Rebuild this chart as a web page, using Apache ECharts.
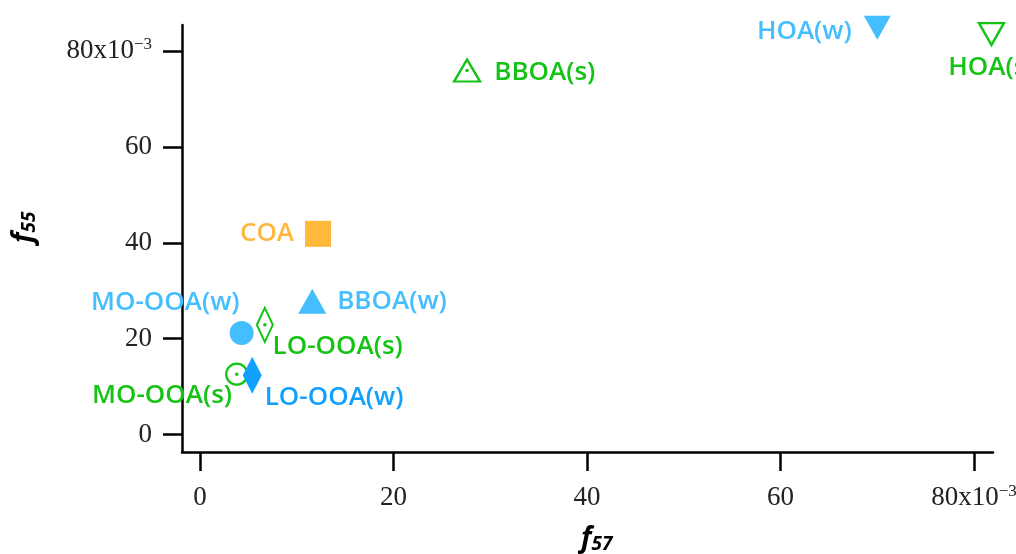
<!DOCTYPE html>
<html>
<head>
<meta charset="utf-8">
<title>f55 vs f57</title>
<script src="https://cdn.jsdelivr.net/npm/echarts@6/dist/echarts.min.js"></script>
<style>
  html, body { margin: 0; padding: 0; background: #ffffff; }
  #chart { width: 1016px; height: 554px; }
</style>
</head>
<body>
<div id="chart"></div>
<script>
// Factor names and their f57 / f55 fractions (both in units of 10^-3)
const factorNames = ['HOA(w)', 'HOA(s)', 'BBOA(s)', 'COA', 'BBOA(w)', 'MO-OOA(w)', 'LO-OOA(s)', 'MO-OOA(s)', 'LO-OOA(w)'];
const f57Values = [70.0, 81.8, 27.6, 12.2, 11.6, 4.3, 6.7, 3.8, 5.4];
const f55Values = [84.9, 83.6, 76.0, 41.9, 27.8, 21.2, 22.9, 12.6, 12.4];
const xTickValues = [0, 20, 40, 60, 80];
const yTickValues = [0, 20, 40, 60, 80];

// Colours
const LIGHT_BLUE = '#45BEFF';
const DEEP_BLUE = '#12A0FF';
const GREEN = '#14C314';
const ORANGE = '#FFB83C';

// Marker and label appearance for each factor
const markerStyle = {
  'HOA(w)':    { symbol: 'triangle', size: [27, 24], rotate: 180, color: LIGHT_BLUE, filled: true,
                 label: { position: 'left', distance: 12, offset: [0, 4] } },
  'HOA(s)':    { symbol: 'triangle', size: [25, 22], rotate: 180, color: GREEN, filled: false,
                 label: { position: 'bottom', distance: 8, offset: [0, 0] } },
  'BBOA(s)':   { symbol: 'triangle', size: [26, 22], rotate: 0, color: GREEN, filled: false, dot: true,
                 label: { position: 'right', distance: 13, offset: [0, 2] } },
  'COA':       { symbol: 'rect', size: [26, 26], rotate: 0, color: ORANGE, filled: true,
                 label: { position: 'left', distance: 11, offset: [0, 0] } },
  'BBOA(w)':   { symbol: 'triangle', size: [28, 25], rotate: 0, color: LIGHT_BLUE, filled: true,
                 label: { position: 'right', distance: 11, offset: [0, 0] } },
  'MO-OOA(w)': { symbol: 'circle', size: 24, rotate: 0, color: LIGHT_BLUE, filled: true,
                 label: { position: 'left', distance: 0, offset: [10, -30] } },
  'LO-OOA(s)': { symbol: 'diamond', size: [16, 34], rotate: 0, color: GREEN, filled: false, dot: true,
                 label: { position: 'right', distance: 0, offset: [-1, 22] } },
  'MO-OOA(s)': { symbol: 'circle', size: 21, rotate: 0, color: GREEN, filled: false, dot: true,
                 label: { position: 'left', distance: 0, offset: [7, 21] } },
  'LO-OOA(w)': { symbol: 'diamond', size: [19, 37], rotate: 0, color: DEEP_BLUE, filled: true,
                 label: { position: 'right', distance: 0, offset: [3, 22] } }
};

const labelFont = { fontFamily: 'Open Sans', fontWeight: 600, fontSize: 26 };

const points = factorNames.map((name, i) => {
  const s = markerStyle[name];
  return {
    name: name,
    value: [f57Values[i], f55Values[i]],
    symbol: s.symbol,
    symbolSize: s.size,
    symbolRotate: s.rotate,
    itemStyle: s.filled
      ? { color: s.color, borderWidth: 0, opacity: 1 }
      : { color: 'rgba(255,255,255,0)', borderColor: s.color, borderWidth: 2.3, opacity: 1 },
    label: Object.assign({
      show: true,
      formatter: name,
      color: s.color,
      opacity: 1,
      position: s.label.position,
      distance: s.label.distance,
      offset: s.label.offset
    }, labelFont)
  };
});

// Centre dots of the open markers
const dots = factorNames
  .map((name, i) => ({ name, i }))
  .filter(d => markerStyle[d.name].dot)
  .map(d => ({
    name: d.name,
    value: [f57Values[d.i], f55Values[d.i]],
    itemStyle: { color: markerStyle[d.name].color, opacity: 1 }
  }));

const TICK_FONT = 'Liberation Serif';

function tickFormatter(value) {
  if (value === 80) return '{b|80x10}{s|\u22123}';
  return '{b|' + value + '}';
}

const tickRich = {
  b: { fontFamily: TICK_FONT, fontSize: 27, color: '#222222', lineHeight: 30 },
  s: { fontFamily: TICK_FONT, fontSize: 17, color: '#222222', verticalAlign: 'top', lineHeight: 12 }
};

const axisLineStyle = { color: '#000000', width: 2.5 };

const titleRich = {
  f: { fontFamily: 'Open Sans', fontStyle: 'italic', fontWeight: 'bold', fontSize: 28, fill: '#000', lineHeight: 30 },
  s: { fontFamily: 'Open Sans', fontStyle: 'italic', fontWeight: 'bold', fontSize: 19, fill: '#000', verticalAlign: 'bottom', lineHeight: 16 }
};

const chart = echarts.init(document.getElementById('chart'), null, { renderer: 'canvas' });

chart.setOption({
  animation: false,
  backgroundColor: '#ffffff',
  grid: {
    left: 182, right: 23, top: 25, bottom: 102,
    containLabel: false,
    outerBoundsMode: 'none'
  },
  xAxis: {
    type: 'value',
    min: -1.86,
    max: 81.96,
    splitLine: { show: false },
    axisLine: { show: true, onZero: false, lineStyle: axisLineStyle },
    axisTick: { show: true, length: 19, lineStyle: axisLineStyle, customValues: xTickValues },
    axisLabel: {
      margin: 31,
      customValues: xTickValues,
      formatter: tickFormatter,
      rich: tickRich
    }
  },
  yAxis: {
    type: 'value',
    min: -3.65,
    max: 85.5,
    splitLine: { show: false },
    axisLine: { show: true, onZero: false, lineStyle: axisLineStyle },
    axisTick: { show: true, length: 19, lineStyle: axisLineStyle, customValues: yTickValues },
    axisLabel: {
      margin: 30,
      customValues: yTickValues,
      formatter: tickFormatter,
      rich: tickRich
    }
  },
  graphic: [
    {
      type: 'text',
      left: 581,
      top: 525,
      style: { text: '{f|f}{s|57}', rich: titleRich }
    },
    {
      type: 'text',
      x: 9,
      y: 243,
      rotation: Math.PI / 2,
      style: { text: '{f|f}{s|55}', rich: titleRich }
    }
  ],
  series: [
    {
      type: 'scatter',
      name: 'factors',
      data: points,
      clip: false
    },
    {
      type: 'scatter',
      name: 'centres',
      data: dots,
      symbol: 'circle',
      symbolSize: 3.5,
      clip: false,
      silent: true
    }
  ]
});
</script>
</body>
</html>
